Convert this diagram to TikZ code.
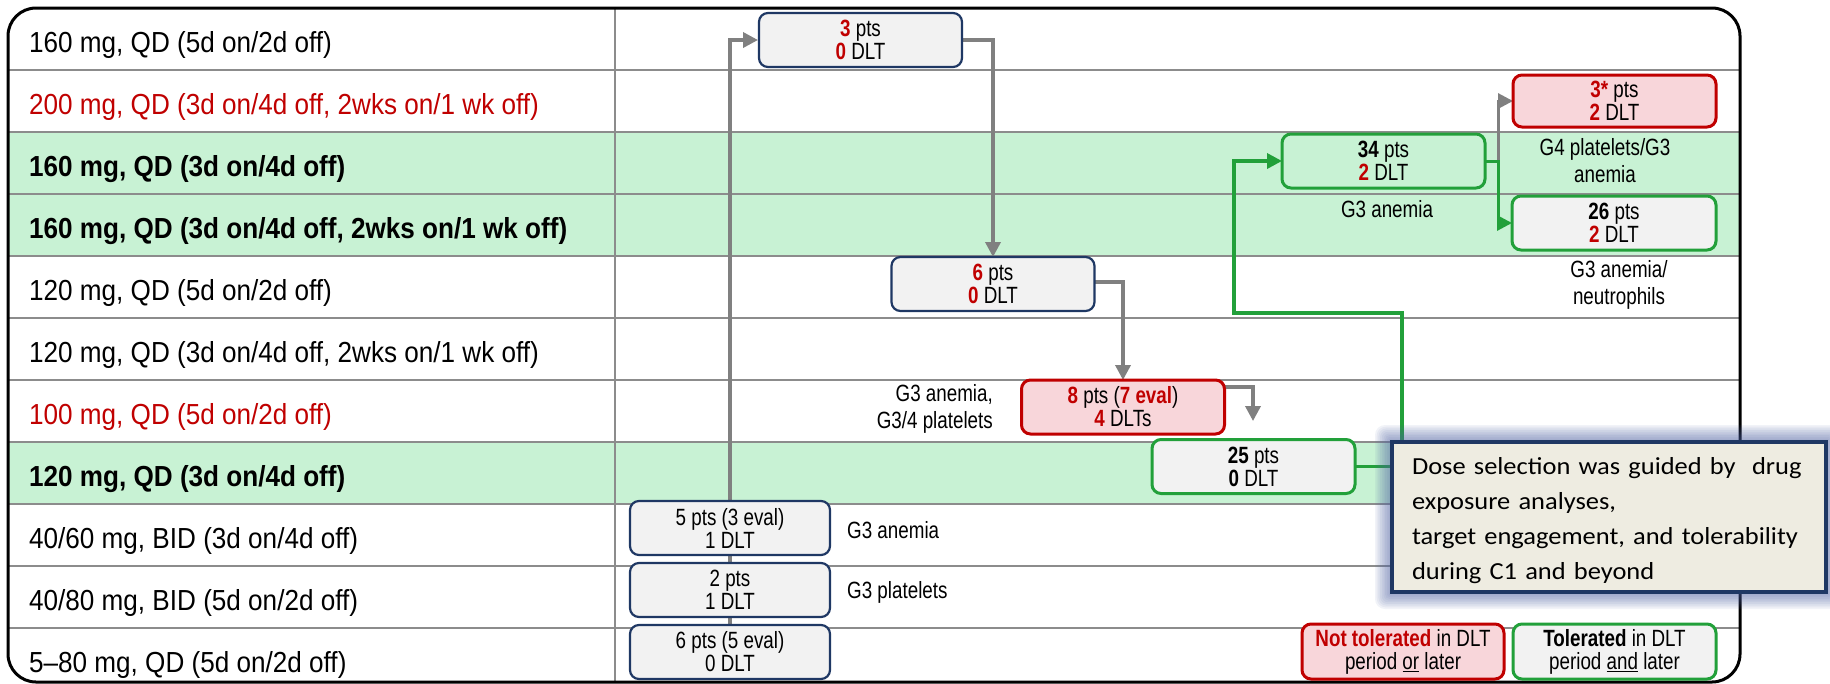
\documentclass[tikz,border=0pt]{standalone}
\usepackage{fontspec}
\setmainfont{Liberation Sans}
\newfontfamily\labfont[FakeStretch=0.9,Ligatures=TeX]{Liberation Sans}
\newfontfamily\bxfont[FakeStretch=0.8,Ligatures=TeX]{Liberation Sans}
\newfontfamily\calfont[FakeStretch=1.08]{Carlito}
\usetikzlibrary{arrows.meta}
\definecolor{rowgreen}{RGB}{200,242,212}
\definecolor{linegray}{RGB}{140,140,140}
\definecolor{arrowgray}{RGB}{128,128,128}
\definecolor{navy}{RGB}{31,56,100}
\definecolor{boxgray}{RGB}{242,242,242}
\definecolor{myred}{RGB}{192,0,0}
\definecolor{pinkfill}{RGB}{248,214,218}
\definecolor{mygreen}{RGB}{34,160,58}
\definecolor{calfill}{RGB}{238,236,225}
\definecolor{glowc}{RGB}{80,100,165}
\newcommand{\rv}[1]{\textcolor{myred}{\textbf{#1}}}
\tikzset{
  lab/.style={inner sep=0pt, anchor=base west, font=\labfont\fontsize{29pt}{31pt}\selectfont},
  bx/.style={draw=navy, fill=boxgray, line width=2.2pt, rounded corners=9pt, inner sep=0pt,
    minimum width=203pt, minimum height=54pt, align=center, font=\bxfont\fontsize{23.5pt}{23pt}\selectfont},
  redbx/.style={bx, draw=myred, fill=pinkfill, line width=3pt},
  grnbx/.style={bx, draw=mygreen, line width=3pt},
  ann/.style={inner sep=0pt, font=\bxfont\fontsize{23.5pt}{27pt}\selectfont},
  garrow/.style={draw=arrowgray, line width=3.5pt, -{Triangle[length=15pt,width=15pt]}},
  gnarrow/.style={draw=mygreen, line width=3.5pt, -{Triangle[length=15pt,width=15pt]}},
  rowline/.style={draw=linegray, line width=2.5pt},
  calloutframe/.style={draw=navy, fill=calfill, line width=3.5pt},
  callouttext/.style={inner sep=0pt, text width=398pt, align=left,
    font=\calfont\fontsize{24.5pt}{35pt}\selectfont},
}
\begin{document}
\begin{tikzpicture}[x=1pt,y=-1pt]
\useasboundingbox (0,0) rectangle (1830,683);
\fill[white] (0,0) rectangle (1830,683);
% rows
\begin{scope}
  \clip[rounded corners=28pt] (8,8) rectangle (1740,682);
  \fill[rowgreen] (8,132) rectangle (1740,256);
  \fill[rowgreen] (8,442) rectangle (1740,504);
  \foreach \y in {70,132,194,256,318,380,442,504,566,628}
    \draw[rowline] (8,\y) -- (1740,\y);
  \draw[rowline] (615,8) -- (615,682);
\end{scope}
\draw[line width=3pt, rounded corners=28pt] (8,8) rectangle (1740,682);

% row labels
\node[lab] (r1) at (29,52.5) {160 mg, QD (5d on/2d off)};
\node[lab, text=myred] (r2) at (29,114.5) {200 mg, QD (3d on/4d off, 2wks on/1 wk off)};
\node[lab] (r3) at (29,176.5) {\textbf{160 mg, QD (3d on/4d off)}};
\node[lab] (r4) at (29,238.5) {\textbf{160 mg, QD (3d on/4d off, 2wks on/1 wk off)}};
\node[lab] (r5) at (29,300.5) {120 mg, QD (5d on/2d off)};
\node[lab] (r6) at (29,362.5) {120 mg, QD (3d on/4d off, 2wks on/1 wk off)};
\node[lab, text=myred] (r7) at (29,424.5) {100 mg, QD (5d on/2d off)};
\node[lab] (r8) at (29,486.5) {\textbf{120 mg, QD (3d on/4d off)}};
\node[lab] (r9) at (29,548.5) {40/60 mg, BID (3d on/4d off)};
\node[lab] (r10) at (29,610.5) {40/80 mg, BID (5d on/2d off)};
\node[lab] (r11) at (29,672.5) {5–80 mg, QD (5d on/2d off)};

% box placement coordinates
\coordinate (pqd) at (730,652);
\coordinate (pb160) at (860.5,40);
\coordinate (pb120a) at (993,284);
\coordinate (pb100) at (1123,407);
\coordinate (pb120b) at (1253.5,466.5);
\coordinate (pb160a) at (1383.5,161);
\coordinate (pb200) at (1614.5,101);
\coordinate (pb160b) at (1614,223);

% connectors (drawn beneath boxes)
\coordinate (e100) at (1253,421);
\coordinate (g1) at (1402,313);
\coordinate (g2) at (1234,161);
\coordinate (gs) at (1498,161);
\draw[garrow] (pqd) |- ([xshift=-1pt]pb160 -| 759,0);
\draw[garrow] (pb160) ++(101.5,0) -| ([yshift=27pt]pb120a);
\draw[garrow] ([yshift=2pt]pb120a) ++(101,0) -| ([yshift=27pt]pb100);
\draw[garrow] ([yshift=20pt]pb100) ++(101,0) -| (e100);
\draw[gnarrow] (pb120b) ++(101.5,0) -| (g1) -| (g2) -- (1282,161);
\draw[garrow, line width=3pt] (gs) |- (1513,101);
\draw[gnarrow, line width=3pt] (pb160a) ++(101.5,0) -- (gs) |- (1512,223);

% boxes
\node[bx] (b160) at (pb160) {\rv{3} pts\\\rv{0} DLT};
\node[bx] (b120a) at (pb120a) {\rv{6} pts\\\rv{0} DLT};
\node[redbx] (b100) at (pb100) {\rv{8} pts (\rv{7 eval})\\\rv{4} DLTs};
\node[grnbx] (b120b) at (pb120b) {\textbf{25} pts\\\textbf{0} DLT};
\node[grnbx, fill=rowgreen] (b160a) at (pb160a) {\textbf{34} pts\\\rv{2} DLT};
\node[redbx, minimum height=52pt] (b200) at (pb200) {\rv{3*} pts\\\rv{2} DLT};
\node[grnbx, minimum width=204pt] (b160b) at (pb160b) {\textbf{26} pts\\\rv{2} DLT};
\node[bx, minimum width=200pt] (bid60) at (730,528) {5 pts (3 eval)\\1 DLT};
\node[bx, minimum width=200pt] (bid80) at (730,590) {2 pts\\1 DLT};
\node[bx, minimum width=200pt] (qd580) at (pqd) {6 pts (5 eval)\\0 DLT};

% annotations
\node[ann, anchor=east, align=right] (a100) at (993,409) {G3 anemia,\\G3/4 platelets};
\node[ann, anchor=west] (a60) at (847,530) {G3 anemia};
\node[ann, anchor=west] (a80) at (847,592) {G3 platelets};
\node[ann, align=center] (a160a) at (1387,209) {G3 anemia};
\node[ann, align=center] (a200) at (1605,161) {G4 platelets/G3\\anemia};
\node[ann, align=center] (a160b) at (1619,285) {G3 anemia/\\neutrophils};

% legend
\node[redbx, minimum width=202pt, minimum height=55pt] (legr) at (1403,651.5)
  {\textcolor{myred}{\textbf{Not tolerated}} in DLT\\period \underline{or} later};
\node[grnbx, minimum height=55pt] (legg) at (1614.5,651.5)
  {\textbf{Tolerated} in DLT\\period \underline{and} later};

% callout glow and frame
\foreach \i in {1,...,10}
  \fill[glowc, opacity=0.075, rounded corners=\i pt] (1392-1.7*\i,442-1.7*\i) rectangle (1826+1.7*\i,592+1.7*\i);
\draw[calloutframe] (1392,442) rectangle (1826,592);
\node[callouttext] (note) at (1611,521)
  {Dose selection was guided by\ \ drug\\exposure analyses,\\target engagement, and tolerability\\during C1 and beyond};
\end{tikzpicture}
\end{document}
